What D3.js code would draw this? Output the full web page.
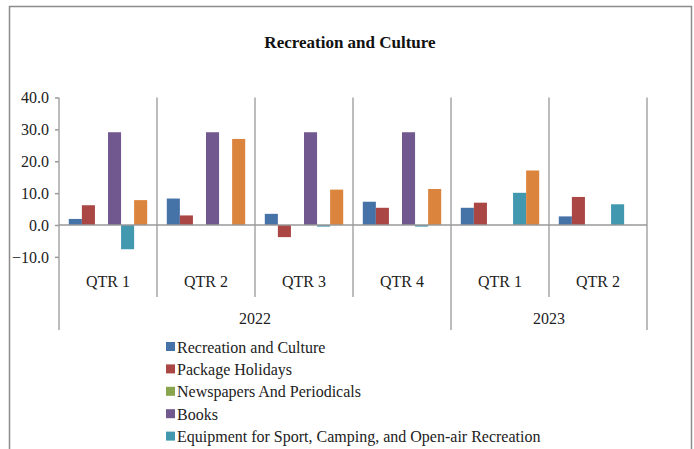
<!DOCTYPE html>
<html>
<head>
<meta charset="utf-8">
<script src="https://cdn.jsdelivr.net/npm/d3@7"></script>
<style>
  body { margin: 0; background: #fff; }
</style>
</head>
<body>
<svg id="chart"></svg>
<script>
// data
const quarters = ["QTR 1", "QTR 2", "QTR 3", "QTR 4", "QTR 1", "QTR 2"]
const years = [
  { label: "2022", first: 0, last: 3 },
  { label: "2023", first: 4, last: 5 },
]
const seriesNames = [
  "Recreation and Culture",
  "Package Holidays",
  "Newspapers And Periodicals",
  "Books",
  "Equipment for Sport, Camping, and Open-air Recreation",
]
const recreationCulture = [1.9, 8.3, 3.5, 7.3, 5.4, 2.7]
const packageHolidays = [6.2, 3.0, -3.8, 5.4, 7.0, 8.8]
const newspapers = [0, 0, 0, 0, 0, 0]
const books = [29.1, 29.1, 29.1, 29.1, 0, 0]
const equipment = [-7.6, 0, -0.5, -0.5, 10.1, 6.5]
const sixthSeries = [7.8, 27.0, 11.1, 11.3, 17.1, 0]
const yTicks = [-10, 0, 10, 20, 30, 40]

const seriesValues = [recreationCulture, packageHolidays, newspapers, books, equipment, sixthSeries]
const colors = ["#4572A7", "#AA4643", "#89A54E", "#71588F", "#4198AF", "#DB843D"]

// dimensions
const width = 694
const height = 449
const plot = { left: 59, right: 647, top: 97.5, zero: 225 }
const FONT = "'Liberation Serif', serif"

const svg = d3.select("#chart")
    .attr("width", width)
    .attr("height", height)

// outer frame
svg.append("rect")
    .attr("x", 9.5).attr("y", 6.5)
    .attr("width", 682).attr("height", 460)
    .attr("fill", "none")
    .attr("stroke", "#8c8c8c")
    .attr("stroke-width", 1.5)

// title
svg.append("text")
    .attr("x", 350).attr("y", 48)
    .attr("text-anchor", "middle")
    .style("font-family", FONT)
    .style("font-size", "17px")
    .style("font-weight", "bold")
    .attr("fill", "#111")
    .text("Recreation and Culture")

// scales
const y = d3.scaleLinear()
  .domain([0, 40])
  .range([plot.zero, plot.top])

const x = d3.scaleBand()
  .domain(d3.range(quarters.length))
  .range([plot.left, plot.right])

const xSeries = d3.scaleBand()
  .domain(d3.range(seriesValues.length))
  .range([0, x.bandwidth()])
  .paddingInner(0)
  .paddingOuter(0.75)

// y axis
const yAxis = d3.axisLeft(y)
  .tickValues(yTicks)
  .tickFormat(d3.format(".1f"))
  .tickSize(4)
  .tickPadding(6)

const yAxisG = svg.append("g")
    .attr("transform", `translate(${plot.left},0)`)
    .call(yAxis)
yAxisG.select(".domain").remove()
yAxisG.selectAll(".tick line").attr("stroke", "#999").attr("stroke-width", 1.5)
yAxisG.selectAll(".tick text")
    .style("font-family", FONT)
    .style("font-size", "16px")
    .attr("fill", "#222")

// separators
const sepColor = "#a6a6a6"
const boundaries = d3.range(quarters.length + 1)
const yearEdges = new Set([0, 4, 6])
svg.append("g").selectAll("line")
  .data(boundaries)
  .join("line")
    .attr("x1", i => i < quarters.length ? x(i) : plot.right)
    .attr("x2", i => i < quarters.length ? x(i) : plot.right)
    .attr("y1", plot.top)
    .attr("y2", i => yearEdges.has(i) ? 330 : 297)
    .attr("stroke", sepColor)
    .attr("stroke-width", 1.5)

// bars
seriesValues.forEach((vals, s) => {
  svg.append("g")
      .attr("fill", colors[s])
    .selectAll("rect")
    .data(vals)
    .join("rect")
      .attr("x", (d, i) => x(i) + xSeries(s))
      .attr("width", xSeries.bandwidth())
      .attr("y", d => y(Math.max(0, d)))
      .attr("height", d => Math.abs(y(d) - y(0)))
})

// zero line
svg.append("line")
    .attr("x1", plot.left).attr("x2", plot.right)
    .attr("y1", y(0)).attr("y2", y(0))
    .attr("stroke", "#999")
    .attr("stroke-width", 1.5)

// quarter labels
svg.append("g").selectAll("text")
  .data(quarters)
  .join("text")
    .attr("x", (d, i) => x(i) + x.bandwidth() / 2)
    .attr("y", 287)
    .attr("text-anchor", "middle")
    .style("font-family", FONT)
    .style("font-size", "16px")
    .attr("fill", "#222")
    .text(d => d)

// year labels
svg.append("g").selectAll("text")
  .data(years)
  .join("text")
    .attr("x", d => (x(d.first) + x(d.last) + x.bandwidth()) / 2)
    .attr("y", 324)
    .attr("text-anchor", "middle")
    .style("font-family", FONT)
    .style("font-size", "16px")
    .attr("fill", "#222")
    .text(d => d.label)

// legend
const legend = svg.append("g")
    .attr("transform", "translate(166,348)")
const legendItem = legend.selectAll("g")
  .data(seriesNames)
  .join("g")
    .attr("transform", (d, i) => `translate(0,${i * 22.4})`)
legendItem.append("rect")
    .attr("x", 0).attr("y", -6)
    .attr("width", 9).attr("height", 9)
    .attr("fill", (d, i) => colors[i])
legendItem.append("text")
    .attr("x", 11)
    .attr("y", 4.5)
    .style("font-family", FONT)
    .style("font-size", "16px")
    .attr("fill", "#222")
    .text(d => d)
</script>
</body>
</html>
